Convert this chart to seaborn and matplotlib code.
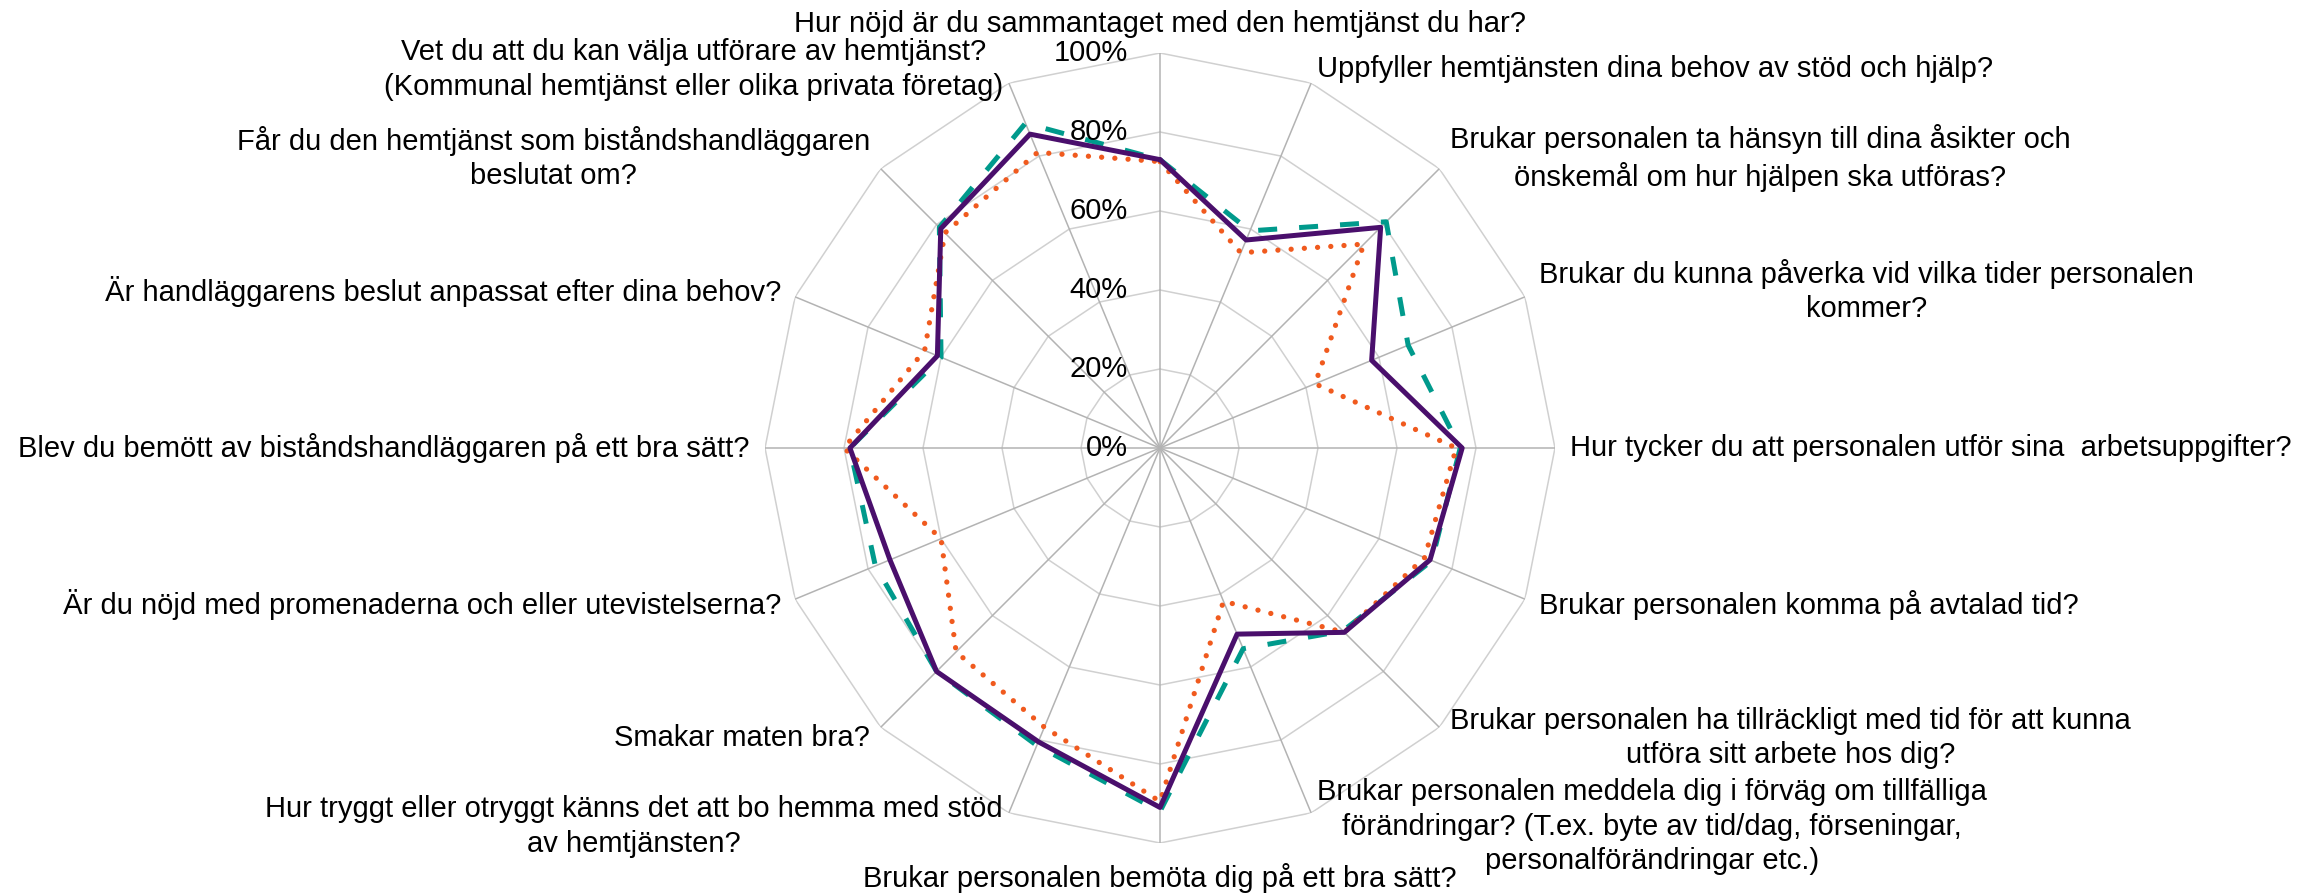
import numpy as np
import pandas as pd
import matplotlib
matplotlib.use("Agg")
import matplotlib.pyplot as plt
import seaborn as sns

categories = [
    "Hur nöjd är du sammantaget med den hemtjänst du har?",
    "Uppfyller hemtjänsten dina behov av stöd och hjälp?",
    "Brukar personalen ta hänsyn till dina åsikter och\nönskemål om hur hjälpen ska utföras?",
    "Brukar du kunna påverka vid vilka tider personalen\nkommer?",
    "Hur tycker du att personalen utför sina  arbetsuppgifter?",
    "Brukar personalen komma på avtalad tid?",
    "Brukar personalen ha tillräckligt med tid för att kunna\nutföra sitt arbete hos dig?",
    "Brukar personalen meddela dig i förväg om tillfälliga\nförändringar? (T.ex. byte av tid/dag, förseningar,\npersonalförändringar etc.)",
    "Brukar personalen bemöta dig på ett bra sätt?",
    "Hur tryggt eller otryggt känns det att bo hemma med stöd\nav hemtjänsten?",
    "Smakar maten bra?",
    "Är du nöjd med promenaderna och eller utevistelserna?",
    "Blev du bemött av biståndshandläggaren på ett bra sätt?",
    "Är handläggarens beslut anpassat efter dina behov?",
    "Får du den hemtjänst som biståndshandläggaren\nbeslutat om?",
    "Vet du att du kan välja utförare av hemtjänst?\n(Kommunal hemtjänst eller olika privata företag)",
]

serie_teal = [0.73, 0.595, 0.81, 0.68, 0.76, 0.745, 0.655, 0.55, 0.92, 0.815,
              0.80, 0.78, 0.785, 0.60, 0.79, 0.89]
serie_purple = [0.73, 0.57, 0.79, 0.58, 0.765, 0.74, 0.66, 0.51, 0.91, 0.805,
                0.80, 0.74, 0.785, 0.61, 0.785, 0.86]
serie_orange = [0.725, 0.535, 0.73, 0.425, 0.75, 0.725, 0.66, 0.42, 0.895, 0.765,
                0.73, 0.60, 0.80, 0.645, 0.77, 0.81]

tick_values = [0.0, 0.2, 0.4, 0.6, 0.8, 1.0]
tick_labels = ["0%", "20%", "40%", "60%", "80%", "100%"]

sns.set_theme(style="white")
plt.rcParams["font.family"] = ["Liberation Sans", "DejaVu Sans"]

W, H = 2323, 893
DPI = 100
FS = 21
fig = plt.figure(figsize=(W / DPI, H / DPI), dpi=DPI, facecolor="white")
cx, cy, R = 1160, 448, 395
ax = fig.add_axes([(cx - R) / W, (H - cy - R) / H, 2 * R / W, 2 * R / H],
                  projection="polar")
ax.set_theta_zero_location("N")
ax.set_theta_direction(-1)
ax.grid(False)
ax.spines["polar"].set_visible(False)
ax.patch.set_alpha(0)

n = len(categories)
theta = np.arange(n) * 2 * np.pi / n
theta_closed = np.append(theta, 2 * np.pi)

# polygon rings
for r in tick_values[1:]:
    ax.plot(theta_closed, np.full(n + 1, r), color="#d0d0d0", lw=1.1, zorder=1)
# spokes
for t in theta:
    ax.plot([t, t], [0, 1.0], color="#b3b3b3", lw=1.1, zorder=1.1)

def closed(vals):
    return pd.DataFrame({"theta": theta_closed, "value": list(vals) + [vals[0]]})

sns.lineplot(data=closed(serie_teal), x="theta", y="value", ax=ax, sort=False,
             estimator=None, color="#009A8C", lw=3.6, linestyle=(0, (3.8, 4.4)),
             dash_capstyle="butt", zorder=3)
sns.lineplot(data=closed(serie_orange), x="theta", y="value", ax=ax, sort=False,
             estimator=None, color="#F05A1E", lw=3.8, linestyle=(0, (0.01, 2.5)),
             dash_capstyle="round", zorder=3.5)
sns.lineplot(data=closed(serie_purple), x="theta", y="value", ax=ax, sort=False,
             estimator=None, color="#4A0F6C", lw=3.6, zorder=4)

ax.set_ylim(0, 1)
ax.set_xticks([])
ax.set_yticks([])
ax.set_xlabel("")
ax.set_ylabel("")

# category labels
for t, lab in zip(theta, categories):
    s, c = np.sin(t), np.cos(t)
    gap = 15
    if abs(s) < 0.01:
        ha = "center"
    elif s > 0:
        ha = "left"
    else:
        ha = "right"
    if c > 0.99:
        va = "bottom"
    elif c < -0.99:
        va = "top"
        gap = 20
    else:
        va = "center"
    ax.annotate(lab, xy=(t, 1.0), xytext=(gap * s, gap * c),
                textcoords="offset pixels", ha=ha, va=va,
                multialignment="center", fontsize=FS, color="black",
                linespacing=1.3, annotation_clip=False)

# radial tick labels
for r, lab in zip(tick_values, tick_labels):
    ax.annotate(lab, xy=(0, r), xytext=(-32, 0), textcoords="offset pixels",
                ha="right", va="center", fontsize=FS, color="black",
                annotation_clip=False)

fig.savefig("out.png", dpi=DPI, facecolor="white")
